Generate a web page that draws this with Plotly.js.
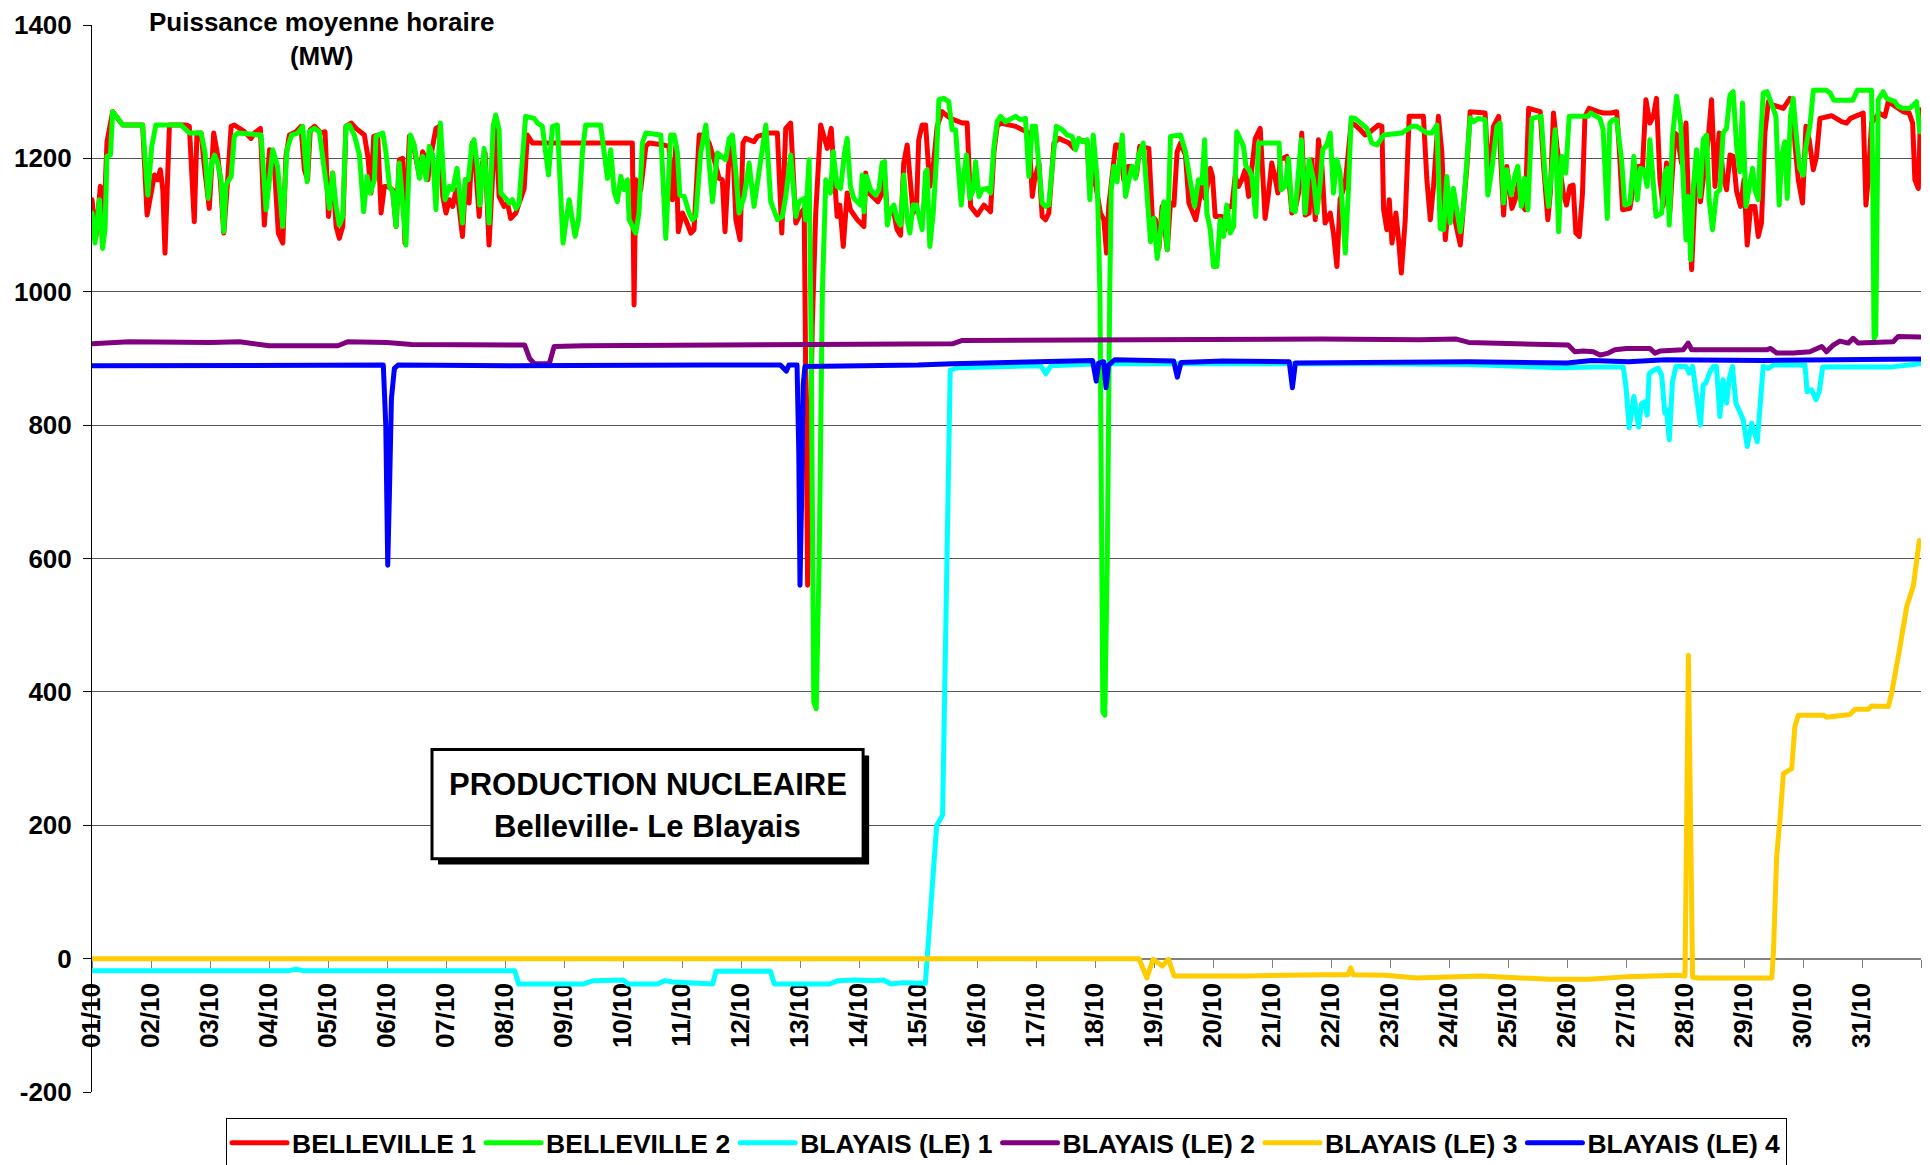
<!DOCTYPE html>
<html>
<head>
<meta charset="utf-8">
<script src="https://cdn.plot.ly/plotly-3.0.1.min.js"></script>
<style>
  html, body { margin:0; padding:0; background:#fff; }
  #chart { width:1930px; height:1165px; }
  .js-line { stroke-linejoin: round !important; stroke-linecap: round; }
</style>
</head>
<body>
<div id="chart"></div>
<script>
// Day labels (one per 24 hours, starting 01/10 00:00)
const dayLabels = ['01/10','02/10','03/10','04/10','05/10','06/10','07/10','08/10','09/10','10/10',
  '11/10','12/10','13/10','14/10','15/10','16/10','17/10','18/10','19/10','20/10',
  '21/10','22/10','23/10','24/10','25/10','26/10','27/10','28/10','29/10','30/10','31/10'];
const yTickValues = [-200,0,200,400,600,800,1000,1200,1400];
const seriesNames = ['BELLEVILLE 1','BELLEVILLE 2','BLAYAIS (LE) 1','BLAYAIS (LE) 2','BLAYAIS (LE) 3','BLAYAIS (LE) 4'];

// [hour since 01/10 00:00, MW]
const belleville1 = [[0,1138],[1.6,1082],[3.4,1158],[4.8,1102],[6.1,1225],[8.4,1270],[12.5,1250],[20.6,1250],[22.4,1115],[24.7,1158],[25.4,1175],[26.7,1168],[27.8,1183],[28.8,1153],[29.7,1058],[31.5,1250],[38.3,1250],[39.6,1248],[41.6,1105],[42.7,1238],[44.4,1238],[45.7,1188],[47.7,1125],[49.5,1238],[51.1,1205],[52.2,1168],[53.6,1088],[55.2,1168],[56.6,1248],[57.9,1250],[62,1240],[64.7,1230],[66.1,1238],[68.5,1245],[70.1,1100],[72.2,1213],[74.2,1188],[75.8,1088],[77.6,1073],[78.9,1203],[80.3,1235],[83,1240],[85,1248],[86.4,1183],[87.7,1168],[88.8,1243],[90.5,1248],[93.2,1238],[94.8,1240],[96.2,1113],[97.9,1178],[99.3,1098],[100.6,1080],[102,1098],[103.3,1248],[105.4,1253],[107.4,1245],[110.8,1235],[112.2,1203],[113.5,1148],[114.6,1233],[116.2,1235],[117.6,1118],[118.9,1158],[120.3,1158],[122.3,1153],[123.7,1098],[125,1198],[126.4,1200],[127.3,1073],[129.1,1233],[131.1,1213],[133.2,1173],[134.5,1210],[135.9,1198],[136.6,1168],[137.9,1205],[139.9,1245],[141.3,1248],[142.7,1143],[144,1118],[145.4,1138],[146.7,1128],[148.1,1153],[149.3,1128],[150.7,1083],[152,1168],[153.4,1133],[154.7,1223],[155.8,1198],[157.5,1113],[158.8,1193],[159.9,1208],[161.5,1070],[162.9,1193],[164.2,1263],[165.6,1143],[167.6,1128],[169,1133],[170.3,1110],[172.4,1118],[174,1133],[175.8,1155],[177.1,1235],[179.2,1223],[219.8,1223],[220.5,980],[221.2,1168],[223.2,1153],[225.3,1218],[226.6,1223],[232.7,1220],[234.7,1218],[236.1,1138],[237.5,1218],[238.5,1090],[240.2,1118],[241.5,1108],[243.6,1088],[244.9,1093],[247,1235],[249,1235],[251,1223],[253.1,1198],[255.1,1170],[256.4,1168],[257.5,1090],[258.9,1188],[260.5,1233],[261.9,1108],[263.6,1078],[264.8,1223],[265.9,1230],[269.3,1225],[270.7,1233],[275.4,1238],[278.8,1238],[280.6,1088],[282.2,1245],[284.2,1253],[286.3,1103],[288.3,1118],[289.7,1125],[290.5,800],[291.1,560],[291.8,700],[293,950],[294.4,1118],[296.4,1250],[299.1,1215],[300.7,1245],[301.8,1183],[303.1,1113],[304.2,1130],[305.6,1068],[307.2,1148],[308.5,1123],[311.3,1108],[314,1098],[314.7,1178],[316,1148],[319.7,1135],[321.4,1148],[322.1,1193],[323.5,1118],[326.2,1118],[327.5,1093],[328.9,1085],[330.2,1193],[331.6,1220],[332.7,1178],[334,1118],[335.4,1128],[336.3,1228],[337.7,1250],[339.1,1250],[340.8,1158],[342.2,1188],[343.8,1248],[345.8,1270],[349.2,1260],[354,1253],[356,1253],[357.4,1128],[360.1,1115],[362.8,1130],[365.5,1120],[366.9,1210],[368.2,1248],[369.6,1253],[375.7,1248],[381.1,1238],[382.5,1143],[383.4,1168],[385.2,1193],[386.5,1113],[387.9,1108],[389.2,1118],[391.3,1223],[393.3,1230],[397.4,1223],[399.4,1215],[401.4,1228],[404.8,1225],[405.9,1153],[407.5,1178],[410.2,1118],[411.6,1108],[412.7,1058],[413.6,1128],[416.4,1220],[418.1,1220],[419.7,1168],[421.4,1188],[423.1,1188],[424.9,1175],[426.2,1218],[429.9,1215],[431.3,1113],[432.6,1108],[434,1065],[435.3,1128],[437.4,1063],[438.7,1133],[440.1,1130],[441.4,1210],[442.8,1223],[444.8,1205],[446.2,1133],[449,1108],[450.1,1130],[451.5,1160],[452.8,1140],[454.9,1185],[455.8,1173],[456.9,1113],[459.6,1113],[461,1093],[462.3,1128],[463.7,1128],[465,1173],[466.4,1158],[467.7,1168],[469.1,1183],[470.5,1143],[471.8,1180],[473.2,1230],[475.2,1245],[476.1,1183],[477.2,1110],[478.6,1148],[479.9,1193],[481.3,1170],[482.4,1148],[483.3,1198],[486,1203],[488.1,1118],[489.4,1123],[490.8,1148],[492.1,1238],[493.5,1115],[495.1,1118],[496.2,1198],[497.6,1108],[498.9,1228],[500.3,1188],[501.6,1103],[503,1113],[503.7,1118],[505,1088],[506.4,1038],[507.7,1138],[509.8,1163],[512.2,1253],[513.8,1250],[515.9,1243],[517.9,1235],[519.3,1238],[521.3,1245],[523.3,1250],[524.7,1248],[525.4,1123],[526.7,1093],[527.7,1138],[528.8,1073],[530.4,1118],[531.5,1078],[532.6,1028],[534.2,1108],[535.8,1263],[541.6,1263],[543,1168],[544.4,1108],[545.7,1158],[547.7,1263],[549.1,1208],[550.5,1078],[551.8,1133],[553.2,1128],[554.5,1108],[556.6,1070],[557.9,1128],[559.3,1188],[560.6,1270],[566.7,1268],[568.1,1168],[570.1,1248],[572.2,1263],[574.2,1115],[575.5,1188],[577.6,1125],[578.9,1138],[580.3,1163],[581.6,1130],[583,1123],[584.4,1275],[589.1,1270],[590.5,1188],[592.2,1108],[593.2,1148],[594.5,1268],[595.9,1218],[597.2,1183],[598.5,1148],[599.8,1130],[601.2,1158],[602.5,1160],[603.6,1088],[605,1083],[606.3,1148],[607.3,1263],[609,1275],[612.7,1270],[614.7,1268],[618.1,1268],[620.2,1270],[621.2,1218],[622.6,1123],[625.6,1125],[627.2,1163],[629,1188],[630.7,1185],[632.1,1288],[633.7,1253],[635.1,1263],[636.4,1290],[637.8,1168],[639.1,1128],[640.5,1193],[641.8,1118],[643.9,1238],[644.8,1235],[646.6,1193],[648.4,1253],[649.3,1148],[650.7,1033],[652,1143],[653,1198],[654.3,1135],[657.4,1228],[658.8,1288],[660.2,1158],[661.9,1238],[663.5,1173],[664.9,1153],[666.3,1205],[667.6,1203],[669,1150],[670.6,1128],[672,1168],[673.3,1070],[674.7,1128],[676.4,1128],[677.8,1083],[679.1,1103],[680.5,1238],[681.9,1285],[683.9,1280],[688,1275],[690.7,1290],[691.7,1288],[692.8,1218],[694.1,1168],[695.8,1133],[697.2,1248],[698.5,1228],[700.2,1183],[701.5,1203],[702.9,1260],[707.6,1264],[711.7,1255],[713.7,1253],[715.3,1260],[720.5,1268],[721.6,1130],[722.5,1168],[723.9,1253],[727,1268],[729.3,1263],[730.7,1285],[732.7,1280],[736.8,1270],[739.2,1268],[740.6,1253],[741.5,1168],[742.9,1155],[743.9,1273]];

const belleville2 = [[0,1118],[1.2,1073],[3,1138],[4.3,1065],[5.3,1093],[6.1,1203],[7.5,1205],[8.4,1270],[10.5,1260],[12.5,1250],[20.6,1250],[22.7,1145],[24.3,1218],[26,1250],[36.2,1250],[38.3,1243],[39.6,1238],[44.4,1238],[46,1208],[47.3,1140],[48.7,1193],[49.8,1205],[51.1,1193],[52.5,1168],[53.6,1090],[54.5,1160],[56.6,1173],[57.9,1233],[59.3,1238],[68.8,1235],[70.8,1123],[72.2,1168],[73.5,1213],[75.5,1188],[77.6,1098],[79.3,1213],[81.2,1235],[83.7,1238],[85.7,1248],[87.5,1165],[88.4,1240],[90.5,1245],[92.5,1240],[94.5,1183],[96.6,1125],[97.9,1178],[99.3,1128],[100.6,1100],[102,1113],[103.3,1248],[104.7,1250],[106.7,1235],[108.8,1205],[110.5,1120],[111.9,1173],[113.2,1148],[114.9,1168],[115.5,1233],[118.3,1238],[119.6,1208],[121,1158],[122.3,1150],[123.7,1098],[125,1193],[126.4,1128],[127.7,1070],[129.5,1235],[131.1,1220],[133.2,1170],[134.5,1203],[135.9,1168],[137.2,1218],[138.6,1205],[139.9,1123],[141.7,1253],[143.6,1138],[145.4,1158],[146.7,1153],[148.5,1185],[149.3,1148],[150.7,1103],[151.8,1168],[153.1,1168],[154.5,1220],[155.4,1228],[156.8,1188],[157.7,1130],[159.5,1215],[161.5,1103],[163.2,1248],[164.2,1265],[165.6,1243],[166.3,1148],[168.3,1140],[169.7,1133],[171,1138],[172.4,1125],[173.7,1133],[175.1,1193],[176.4,1263],[179.8,1260],[181.2,1253],[183.2,1248],[185.7,1175],[187.3,1248],[189.3,1250],[191.6,1073],[194.1,1138],[196.5,1083],[197.9,1108],[199.5,1210],[200.8,1250],[206.9,1250],[208.3,1213],[209.7,1170],[211,1213],[212.4,1150],[213.7,1135],[215.1,1173],[216.4,1153],[217.8,1168],[218.5,1108],[221.2,1088],[222.5,1118],[223.9,1223],[225.3,1238],[231.4,1235],[233.4,1080],[235.4,1235],[236.8,1235],[238.1,1210],[239.1,1145],[240.9,1143],[242.9,1118],[244.2,1108],[245.6,1113],[247.6,1208],[249.7,1250],[252.4,1135],[254.4,1208],[257.8,1198],[259.2,1230],[260.5,1235],[261.9,1180],[263.2,1118],[265.3,1143],[267.3,1193],[269.3,1128],[270.7,1163],[272.4,1210],[274.1,1250],[276.1,1135],[278.8,1108],[280.8,1113],[282.2,1143],[284.2,1205],[286.3,1113],[287.6,1135],[289.7,1140],[290.3,1108],[291.7,1198],[292.6,900],[293.6,385],[294.6,375],[295.8,600],[297.1,1000],[298.5,1168],[300.4,1148],[301.5,1210],[303.1,1158],[304.5,1155],[306.1,1208],[307.2,1230],[308.5,1158],[309.9,1140],[312.6,1130],[313.3,1175],[314,1120],[315.1,1173],[316.7,1153],[318.7,1145],[320.1,1153],[321.4,1193],[322.4,1195],[323.5,1100],[324.8,1123],[326.2,1130],[327.5,1108],[328.9,1100],[330.2,1175],[331.6,1108],[332.7,1088],[334,1130],[335.4,1130],[336.8,1105],[337.7,1093],[339.1,1180],[339.7,1183],[340.8,1068],[342.2,1118],[343.5,1198],[344.5,1288],[346.5,1290],[348.5,1285],[349.9,1243],[351.3,1243],[351.9,1210],[353.6,1130],[354.7,1178],[355.7,1205],[357.1,1140],[358.5,1153],[359.4,1195],[360.8,1143],[362.1,1153],[364.1,1155],[365.5,1148],[366.9,1218],[368.2,1255],[369.6,1263],[371.6,1255],[373.6,1258],[375.7,1263],[377.7,1258],[379.7,1260],[381.1,1173],[382.5,1248],[383.8,1248],[385.2,1190],[386.5,1133],[387.9,1128],[389.2,1130],[390.6,1188],[392.3,1248],[394.7,1243],[396.7,1235],[398.7,1233],[400.1,1213],[401.4,1230],[402.8,1225],[404.8,1228],[405.9,1138],[407.3,1235],[408.9,1168],[410,1000],[411.2,370],[412,365],[413,600],[414,1000],[414.6,1153],[415.7,1188],[417,1165],[419.1,1235],[420.4,1143],[421.8,1168],[423.1,1188],[424.5,1170],[425.8,1205],[427.6,1223],[429.2,1143],[430.6,1075],[431.9,1110],[433.3,1050],[434.6,1090],[436,1135],[437.4,1063],[438.7,1233],[442.8,1235],[444.8,1210],[446.9,1163],[448.5,1128],[450.1,1168],[451.5,1163],[452.6,1228],[453.5,1118],[454.9,1093],[456.2,1038],[457.6,1038],[458.9,1108],[460.3,1083],[461.6,1130],[463,1088],[464.4,1098],[465.7,1240],[467.1,1228],[468.4,1218],[469.4,1188],[470.7,1183],[471.8,1173],[473.4,1113],[474.5,1223],[482.9,1223],[483.7,1153],[485.4,1158],[486.7,1200],[488.1,1123],[489.4,1120],[490.8,1178],[491.9,1228],[493.5,1118],[495.1,1198],[496.9,1168],[498.3,1118],[499.6,1163],[500.6,1213],[502.3,1220],[503.7,1238],[505,1148],[506.4,1198],[507.7,1178],[509.8,1058],[511.1,1153],[512.2,1261],[513.8,1260],[515.9,1253],[518.6,1245],[520.6,1223],[522.7,1220],[525.4,1235],[532.8,1238],[534.9,1243],[536.9,1248],[538.9,1248],[541,1243],[543,1238],[545,1238],[547.1,1250],[548.4,1095],[549.8,1093],[551.1,1173],[552.5,1103],[553.8,1155],[555.2,1118],[556.6,1090],[557.9,1128],[559.3,1190],[560.6,1261],[562,1255],[564,1260],[566.7,1258],[567.8,1145],[569.4,1183],[571.5,1248],[572.8,1253],[574.2,1133],[575.5,1183],[577.3,1145],[578.7,1173],[580,1188],[581.4,1128],[582.7,1170],[584.1,1123],[585.7,1260],[589.5,1263],[591.1,1173],[592.5,1128],[593.8,1183],[595.2,1243],[596.6,1090],[597.9,1203],[599.5,1178],[600.9,1263],[608.6,1263],[609.6,1268],[613.4,1260],[614.7,1243],[616.4,1110],[617.4,1253],[618.8,1258],[620.2,1258],[622.2,1198],[623.5,1130],[625.6,1133],[627.2,1203],[628.6,1138],[629.9,1185],[631.3,1183],[632.6,1158],[633.7,1228],[635.1,1153],[636.2,1113],[638.5,1118],[639.8,1178],[640.8,1185],[641.6,1100],[642.9,1233],[644.6,1293],[646.2,1253],[647.3,1168],[648.4,1078],[649.3,1143],[650.3,1048],[651.3,1153],[652.7,1213],[654.1,1143],[655.4,1228],[656.8,1235],[657.8,1138],[659.2,1093],[660.8,1148],[662.2,1153],[663.5,1238],[664.9,1245],[666.3,1295],[667.6,1300],[669,1218],[670.3,1180],[671.4,1283],[672.8,1128],[674.4,1168],[675.5,1185],[676.4,1153],[677.8,1138],[678.5,1208],[679.8,1298],[681.4,1300],[683.2,1283],[685,1263],[686.3,1130],[687.3,1203],[688.6,1225],[689.6,1140],[690.9,1263],[692,1290],[693.4,1230],[694.7,1185],[696.1,1175],[697.2,1218],[698.8,1248],[700.2,1302],[705.6,1302],[707,1298],[708.6,1287],[716.2,1287],[718.1,1302],[723.9,1302],[724.4,1150],[724.9,930],[725.6,935],[726.6,1288],[728.6,1300],[730,1290],[731.3,1288],[733.4,1285],[734.7,1278],[736.8,1275],[739.5,1275],[742.2,1285],[743.5,1240]];

const blayais1 = [[0,-18],[80,-18],[83,-16],[86,-18],[172,-18],[173.5,-38],[200,-38],[204,-33],[216,-32],[218,-38],[230,-38],[233,-33],[236,-35],[252.5,-38],[253.8,-19],[276,-19],[277.5,-38],[300,-38],[303.5,-33],[310,-32],[318,-33],[322,-32],[325,-38],[330,-36],[339,-37],[343.6,200],[346,215],[349.1,882],[352,886],[370,888],[386,889],[388,877],[390,889],[410,892],[440,892],[480,893],[520,892],[560,891],[597.1,886],[610.7,887],[622.9,887],[624,857],[625.3,796],[627.2,843],[629.1,797],[630.3,832],[631.7,835],[632.6,815],[633.4,877],[635.1,882],[637.1,885],[638.5,875],[639.8,818],[640.5,823],[641.6,778],[642.9,865],[644.3,888],[648.4,888],[649.7,878],[651.1,888],[652.4,848],[654.3,800],[655.4,860],[656.5,863],[657.9,878],[659.5,888],[660.8,888],[662.2,813],[663.5,868],[664.9,833],[666,870],[667.3,888],[668.7,833],[670.3,820],[671.7,808],[673.3,768],[675.1,803],[677.4,775],[678.5,833],[679.8,888],[681.9,885],[683.9,890],[696.8,890],[697.7,850],[699.5,853],[701.3,838],[702.6,850],[704,887],[719.2,887],[731.4,887],[743.5,892]];

const blayais2 = [[0,922],[15,925],[48,924],[60,925],[72,919],[100,919],[104,925],[120,924],[130,921],[176,920],[178,900],[180,892],[186,892],[188,918],[200,919],[260,920],[300,921],[350,922],[354,927],[420,928],[440,927],[450,929],[500,929],[540,928],[555,929],[560,924],[597.1,922],[600.5,920],[603.2,910],[606.6,911],[610.7,910],[613.4,905],[616.8,908],[619.5,913],[624.2,915],[633.7,915],[635.8,908],[637.8,911],[647.3,913],[649.3,923],[650.7,913],[681.2,913],[682.8,915],[685.3,908],[692,908],[698.8,910],[703.6,918],[705.6,910],[708.3,920],[711,926],[714.4,923],[716.4,930],[718.5,923],[732.7,925],[734.7,933],[743.5,932]];

const blayais3 = [[0,0],[425.9,0],[429.1,-29],[431.6,-1],[435.4,-11],[437.9,-1],[440.2,-26],[470,-26],[500,-24],[511,-24],[512,-14],[513,-24],[526,-25],[539,-29],[565,-26],[593,-31],[609,-31],[625,-27],[645,-25],[648,-26],[649.4,455],[651.1,-28],[653.4,-29],[683.3,-29],[684,11],[685.3,154],[686.7,211],[688,277],[690,282],[691.4,285],[692.7,348],[694.1,365],[704.3,365],[705.6,362],[715.1,366],[717.2,374],[722.6,374],[723.9,379],[730.7,378],[732.1,399],[735.2,462],[738.2,528],[740.9,559],[743.3,627]];

const blayais4 = [[0,889],[30,889],[60,890],[100,889],[118.5,890],[119.5,800],[120.3,590],[121,700],[121.8,840],[123,885],[124.5,890],[170,889],[200,890],[250,890],[280,890],[282.4,881],[283.5,890],[286.8,890],[287.5,760],[288,560],[288.6,680],[289.3,860],[290,888],[320,889],[336,890],[350,892],[372,894],[380,896],[407,897],[408.5,866],[409.5,893],[411.5,895],[412.5,856],[413.5,890],[416,898],[440,896],[441.5,872],[443,894],[460,896],[487,895],[488.3,856],[489.5,893],[520,894],[560,895],[600,893],[610,897],[625,895],[640,898],[680,897],[744,899]];

const seriesData = [belleville1, belleville2, blayais1, blayais2, blayais3, blayais4];
const seriesColors = ['#FF0000','#00FF00','#00FFFF','#800080','#FFCC00','#0000FF'];

const traces = seriesData.map((s, i) => ({
  type: 'scatter', mode: 'lines', name: seriesNames[i],
  x: s.map(p => p[0]), y: s.map(p => p[1]),
  line: {color: seriesColors[i], width: 5},
  hoverinfo: 'skip'
}));

const FONT = 'Liberation Sans, Arial, Helvetica, sans-serif';
const tickHours = dayLabels.map((d, i) => i * 24).concat([744]);
const tickText = dayLabels.concat(['']);

const layout = {
  width: 1930, height: 1165,
  margin: {l: 92, r: 9, t: 25, b: 73, autoexpand: false},
  paper_bgcolor: '#fff', plot_bgcolor: '#fff',
  font: {family: FONT, color: '#000'},
  showlegend: true,
  legend: {
    orientation: 'h', x: 0.5, xanchor: 'center', y: -0.0245, yanchor: 'top',
    bordercolor: '#000', borderwidth: 1, bgcolor: '#fff',
    font: {family: FONT, size: 26.5, weight: 'bold', color: '#000'},
    itemwidth: 55, tracegroupgap: 0
  },
  xaxis: {
    range: [0, 744], anchor: 'free', position: 0.125, layer: 'below traces',
    showline: true, linecolor: '#808080', linewidth: 2,
    ticks: 'outside', ticklen: 8, tickcolor: '#808080', tickwidth: 1,
    tickmode: 'array', tickvals: tickHours, ticktext: tickText,
    tickangle: -90, ticklabelstandoff: 5,
    tickfont: {family: FONT, size: 26, weight: 'bold', color: '#000'},
    showgrid: false, zeroline: false, fixedrange: true
  },
  yaxis: {
    range: [-200, 1400],
    tickmode: 'array', tickvals: yTickValues, ticktext: yTickValues.map(v => String(v)),
    showgrid: true, gridcolor: '#555', gridwidth: 1,
    showline: true, linecolor: '#000', linewidth: 1,
    ticks: 'outside', ticklen: 8, tickcolor: '#000',
    ticklabelstandoff: 6,
    tickfont: {family: FONT, size: 26, weight: 'bold', color: '#000'},
    zeroline: false, fixedrange: true
  },
  shapes: [
    {type: 'rect', xref: 'paper', yref: 'paper', x0: 0.1892, x1: 0.4249, y0: 0.2131, y1: 0.3153,
     fillcolor: '#000', line: {width: 0}, layer: 'above'},
    {type: 'rect', xref: 'paper', yref: 'paper', x0: 0.1859, x1: 0.4216, y0: 0.2187, y1: 0.3209,
     fillcolor: '#fff', line: {color: '#000', width: 3}, layer: 'above'}
  ],
  annotations: [
    {xref: 'paper', yref: 'paper', x: 0.1256, y: 0.9873, xanchor: 'center', yanchor: 'middle',
     text: '<b>Puissance moyenne horaire</b><br><b>(MW)</b>', showarrow: false,
     bgcolor: '#fff', borderpad: 2,
     font: {family: FONT, size: 26, color: '#000'}},
    {xref: 'paper', yref: 'paper', x: 0.3038, y: 0.2884, xanchor: 'center', yanchor: 'middle',
     text: '<b>PRODUCTION NUCLEAIRE</b>', showarrow: false,
     font: {family: FONT, size: 31, color: '#000'}},
    {xref: 'paper', yref: 'paper', x: 0.3038, y: 0.2484, xanchor: 'center', yanchor: 'middle',
     text: '<b>Belleville- Le Blayais</b>', showarrow: false,
     font: {family: FONT, size: 31, color: '#000'}}
  ]
};

Plotly.newPlot('chart', traces, layout, {staticPlot: true, displayModeBar: false});
</script>
</body>
</html>
